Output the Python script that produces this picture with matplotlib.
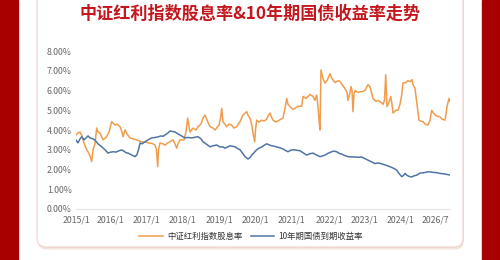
import matplotlib.pyplot as plt
from matplotlib.patches import FancyBboxPatch, Rectangle

plt.rcParams["font.family"] = ["Noto Sans CJK SC", "DejaVu Sans"]

# x positions along the (category-like) date axis, y values in %
tick_pos = [0, 34, 70, 106.5, 143, 179, 215, 253, 288, 324, 359]
tick_labels = ["2015/1", "2016/1", "2017/1", "2018/1", "2019/1", "2020/1",
               "2021/1", "2022/1", "2023/1", "2024/1", "2026/7"]
y_ticks = [0, 1, 2, 3, 4, 5, 6, 7, 8]

div_x = [76, 78, 80, 82, 83, 85, 86.7, 88, 90, 91.7, 93, 95, 96.7, 98, 100, 103,
         106.7, 109, 111.7, 113, 115, 117, 120, 122, 123, 125, 127, 130, 133,
         136.7, 139, 141.7, 145, 148, 150, 153, 155, 156.5, 157.7, 158.5, 160,
         163, 165, 168, 170, 173, 175, 176.7, 178, 180, 184, 186, 187.7, 189,
         190, 193, 196, 198, 201, 203, 205, 207, 210, 213, 215, 219, 220.5,
         221.7, 223, 226.7, 229, 231.7, 234, 236.7, 240, 243, 245, 246.7, 248,
         250, 252, 253, 254.7, 255.5, 256.7, 259, 261.7, 264, 266.7, 268, 270,
         272, 273, 276, 278, 281, 283, 285, 286.7, 288, 290, 293, 295, 298,
         301.7, 303, 306, 310, 313, 315, 316.7, 318, 319, 320, 321, 323, 325,
         327, 330, 332, 335, 338, 340, 342, 345, 347, 348, 350, 351, 352, 353,
         354, 355, 358, 360, 363, 365, 368, 370, 372, 373, 376, 378, 381, 383,
         384.5, 385.7, 386.5, 387, 389, 390.7, 392, 393, 396, 398, 400, 401.7,
         403, 406, 408, 410, 412, 413, 415, 416.7, 418, 419, 421, 423, 425, 428,
         430, 431.7, 433, 435, 437, 440, 442, 445, 446, 447, 449, 450]
div_y = [3.75, 3.85, 3.9, 3.7, 3.5, 3.2, 3.0, 2.9, 2.7, 2.4, 3.0, 3.3, 4.1, 3.9,
         3.85, 3.5, 3.66, 3.9, 4.42, 4.35, 4.25, 4.3, 4.17, 3.9, 3.66, 4.0, 3.8,
         3.6, 3.55, 3.5, 3.45, 3.4, 3.4, 3.35, 3.34, 3.3, 3.24, 3.0, 2.14, 3.0,
         3.34, 3.3, 3.24, 3.35, 3.4, 3.5, 3.3, 3.08, 3.3, 3.5, 3.5, 3.9, 4.6,
         4.2, 3.9, 4.1, 4.0, 4.17, 4.3, 4.6, 4.76, 4.5, 4.17, 4.1, 4.0, 4.25,
         4.6, 5.1, 4.42, 4.17, 4.3, 4.25, 4.1, 4.17, 4.42, 4.76, 4.85, 4.93,
         4.75, 4.6, 4.2, 3.85, 3.4, 4.0, 4.5, 4.4, 4.5, 4.45, 4.55, 4.7, 4.86,
         4.6, 4.5, 4.4, 4.46, 4.55, 4.6, 5.1, 5.6, 5.3, 5.18, 5.05, 5.1, 5.2,
         5.2, 5.7, 5.6, 5.8, 5.7, 5.5, 5.77, 5.2, 4.5, 4.0, 7.04, 6.6, 6.38,
         6.5, 6.85, 6.6, 6.4, 6.5, 6.45, 6.3, 6.1, 5.9, 5.5, 5.9, 6.2, 6.0,
         4.93, 5.8, 6.0, 5.9, 5.94, 5.95, 6.0, 6.3, 6.2, 5.8, 5.6, 5.45, 5.5,
         5.4, 5.3, 5.5, 6.8, 5.8, 5.18, 5.4, 5.7, 5.3, 4.86, 5.0, 5.0, 5.3,
         5.77, 6.38, 6.4, 6.5, 6.45, 6.55, 6.3, 6.1, 5.44, 4.9, 4.5, 4.45, 4.42,
         4.3, 4.25, 4.5, 5.0, 4.9, 4.76, 4.7, 4.67, 4.55, 4.5, 4.8, 5.18, 5.6,
         5.45]

bond_x = [76, 78, 80, 81.7, 84, 86, 88, 90, 93, 95, 98, 101.7, 105, 108, 110,
          113, 116, 119, 121.7, 124, 126, 128, 131, 133, 135, 137, 139, 140, 142,
          145, 148, 151.7, 155, 158, 161, 163, 165, 168, 170, 173, 175, 178, 180,
          183, 185, 188, 191.7, 195, 198, 201, 203, 206, 210, 213, 216.7, 220,
          223, 225, 228, 230, 233, 235, 238, 240, 243, 245, 248, 250, 251.7, 254,
          256.7, 259, 261.7, 264, 266.7, 269, 271.7, 274, 276.7, 280, 283, 286,
          288, 291, 293, 296, 300, 303, 306.7, 310, 313, 316, 320, 323, 325, 328,
          331.7, 334, 336.7, 339, 341.7, 345, 348, 352, 355, 358, 361.7, 365,
          368, 371, 375, 378, 381, 384, 388, 391, 394, 396.7, 399, 401.7, 403.5,
          405, 406.7, 409, 411.7, 414, 417, 420, 423, 426, 428, 432, 436.7, 440,
          444, 447, 450]
bond_y = [3.49, 3.35, 3.55, 3.66, 3.5, 3.6, 3.7, 3.6, 3.55, 3.49, 3.3, 3.15,
          3.0, 2.83, 2.87, 2.9, 2.88, 2.95, 2.99, 2.93, 2.85, 2.83, 2.75, 2.7,
          2.65, 2.75, 3.1, 3.34, 3.3, 3.4, 3.5, 3.6, 3.62, 3.65, 3.7, 3.68, 3.75,
          3.85, 3.95, 3.92, 3.9, 3.8, 3.75, 3.65, 3.6, 3.62, 3.6, 3.63, 3.66,
          3.55, 3.4, 3.3, 3.15, 3.2, 3.24, 3.14, 3.14, 3.08, 3.15, 3.2, 3.17,
          3.15, 3.05, 3.0, 2.8, 2.65, 2.53, 2.6, 2.73, 2.85, 3.0, 3.08, 3.14,
          3.22, 3.3, 3.25, 3.2, 3.18, 3.14, 3.1, 3.04, 2.95, 2.9, 2.98, 3.0,
          2.98, 2.95, 2.85, 2.73, 2.8, 2.83, 2.75, 2.65, 2.7, 2.73, 2.82, 2.9,
          2.93, 2.9, 2.82, 2.78, 2.7, 2.65, 2.64, 2.63, 2.62, 2.63, 2.55, 2.48,
          2.4, 2.3, 2.33, 2.3, 2.25, 2.18, 2.12, 2.05, 1.97, 1.8, 1.64, 1.7, 1.8,
          1.72, 1.65, 1.62, 1.68, 1.72, 1.82, 1.83, 1.86, 1.89, 1.86, 1.84, 1.8,
          1.78, 1.75, 1.72]

title = "中证红利指数股息率&10年期国债收益率走势"
label_div = "中证红利指数股息率"
label_bond = "10年期国债到期收益率"

orange = "#ef9d4c"
blue = "#4f74a6"
red = "#a80000"

fig = plt.figure(figsize=(5, 2.6), dpi=100)

# background drawn in pixel coordinates
bg = fig.add_axes([0, 0, 1, 1], zorder=0)
bg.set_xlim(0, 500)
bg.set_ylim(260, 0)
bg.axis("off")
bg.add_patch(Rectangle((0, 0), 18, 260, color=red))
bg.add_patch(Rectangle((482, 0), 18, 260, color=red))
bg.add_patch(FancyBboxPatch((38, -30), 426, 279.5, boxstyle="round,pad=0,rounding_size=9",
                            facecolor="#f1dccf", edgecolor="none", alpha=0.8))
bg.add_patch(FancyBboxPatch((37, -30), 426, 277, boxstyle="round,pad=0,rounding_size=9",
                            facecolor="white", edgecolor="#f0d2cf", linewidth=0.8))
bg.text(250, 14, title, ha="center", va="center", fontsize=12.3,
        fontweight="bold", color="#c4161c")

ax = fig.add_axes([76 / 500, 51 / 260, 374 / 500, 158 / 260], zorder=1)
ax.patch.set_alpha(0)
off = 76
ax.plot([x - off for x in div_x], div_y, color=orange, linewidth=1.1, label=label_div)
ax.plot([x - off for x in bond_x], bond_y, color=blue, linewidth=1.1, label=label_bond)

ax.set_xlim(0, 374)
ax.set_ylim(0, 8)
ax.set_yticks(y_ticks)
ax.set_yticklabels([f"{v:.2f}%" for v in y_ticks])
ax.set_xticks(tick_pos)
ax.set_xticklabels(tick_labels)
ax.tick_params(axis="both", length=0, labelsize=6.3, labelcolor="#666666")
ax.tick_params(axis="y", pad=3)
ax.tick_params(axis="x", pad=5)
for side in ["top", "right", "left"]:
    ax.spines[side].set_visible(False)
ax.spines["bottom"].set_color("#e6e6e6")
ax.spines["bottom"].set_linewidth(0.8)

ax.legend(loc="upper center", bbox_to_anchor=(0.468, -0.1), ncol=2, frameon=False,
          fontsize=6, handlelength=2.8, columnspacing=1.0, handletextpad=0.5,
          labelcolor="#333333")

fig.savefig("out.png", dpi=100)
